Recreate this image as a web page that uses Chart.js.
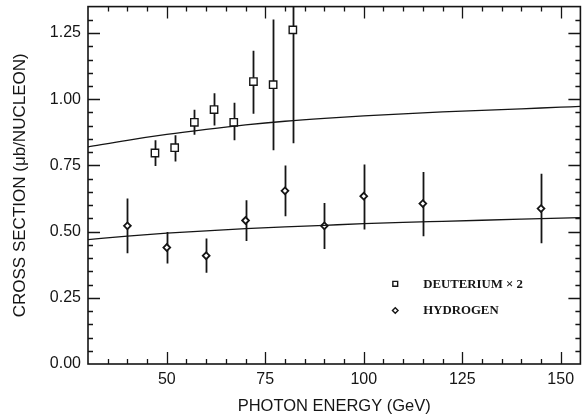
<!DOCTYPE html>
<html>
<head>
<meta charset="utf-8">
<script src="https://cdn.jsdelivr.net/npm/chart.js@4/dist/chart.umd.min.js"></script>
<style>
  html, body { margin: 0; padding: 0; background: #fff; }
  #wrap { width: 587px; height: 416px; }
</style>
</head>
<body>
<div id="wrap"><canvas id="chart" width="587" height="416"></canvas></div>
<script>
// Deuterium (x 2) measurements
const deutEnergy = [47, 52, 57, 62, 67, 72, 77, 82];
const deutValue  = [0.797, 0.817, 0.913, 0.961, 0.913, 1.067, 1.055, 1.262];
const deutLow    = [0.748, 0.765, 0.866, 0.901, 0.845, 0.945, 0.807, 0.834];
const deutHigh   = [0.845, 0.864, 0.960, 1.023, 0.987, 1.183, 1.301, 1.69];

// Hydrogen measurements
const hydEnergy = [40, 50, 60, 70, 80, 90, 100, 115, 145];
const hydValue  = [0.522, 0.440, 0.409, 0.542, 0.654, 0.522, 0.634, 0.606, 0.587];
const hydLow    = [0.418, 0.380, 0.345, 0.465, 0.558, 0.434, 0.508, 0.483, 0.456];
const hydHigh   = [0.625, 0.499, 0.474, 0.619, 0.750, 0.608, 0.754, 0.725, 0.719];

// Fitted curves
const curveEnergy = [30, 40, 50, 60, 70, 80, 90, 100, 110, 120, 130, 140, 150, 155];
const deutCurve   = [0.820, 0.845, 0.867, 0.886, 0.903, 0.917, 0.928, 0.937, 0.945, 0.952, 0.958, 0.964, 0.970, 0.973];
const hydCurve    = [0.470, 0.483, 0.494, 0.503, 0.511, 0.518, 0.524, 0.530, 0.535, 0.539, 0.543, 0.547, 0.551, 0.553];

// Axis ticks
const xTicks = [50, 75, 100, 125, 150];
const yTicks = [0, 0.25, 0.5, 0.75, 1.0, 1.25];
const legendLabels = ['DEUTERIUM \u00d7 2', 'HYDROGEN'];

const INK = '#151515';
const SANS = '"Liberation Sans", Arial, sans-serif';

const toXY = (xs, ys) => xs.map((x, i) => ({ x, y: ys[i] }));

/** Frame, inward ticks on all four sides, error bars and the inset legend. */
const framePlugin = {
  id: 'frame',
  beforeDatasetsDraw(chart) {
    const { ctx, chartArea: a, scales: { x, y } } = chart;
    ctx.save();
    ctx.beginPath();
    ctx.rect(a.left, a.top, a.right - a.left, a.bottom - a.top);
    ctx.clip();
    ctx.strokeStyle = INK;
    ctx.lineWidth = 1.8;
    const bars = [[deutEnergy, deutLow, deutHigh], [hydEnergy, hydLow, hydHigh]];
    bars.forEach(([xs, lo, hi]) => {
      xs.forEach((e, i) => {
        const px = Math.round(x.getPixelForValue(e)) + 0.5;
        ctx.beginPath();
        ctx.moveTo(px, y.getPixelForValue(lo[i]));
        ctx.lineTo(px, y.getPixelForValue(hi[i]));
        ctx.stroke();
      });
    });
    ctx.restore();
  },
  afterDraw(chart) {
    const { ctx, chartArea: a, scales: { x, y } } = chart;
    ctx.save();
    ctx.strokeStyle = INK;
    ctx.lineWidth = 1.6;
    ctx.strokeRect(a.left, a.top, a.right - a.left, a.bottom - a.top);

    ctx.lineWidth = 1.3;
    const major = 12, minor = 5;
    for (let v = x.min; v <= x.max + 1e-6; v += 5) {
      if (v <= x.min || v >= x.max) continue;
      const len = xTicks.includes(v) ? major : minor;
      const px = Math.round(x.getPixelForValue(v)) + 0.5;
      ctx.beginPath();
      ctx.moveTo(px, a.bottom); ctx.lineTo(px, a.bottom - len);
      ctx.moveTo(px, a.top); ctx.lineTo(px, a.top + len);
      ctx.stroke();
    }
    for (let k = 1; k * 0.05 < y.max; k++) {
      const v = +(k * 0.05).toFixed(2);
      const len = yTicks.some(t => Math.abs(t - v) < 1e-6) ? major : minor;
      const py = Math.round(y.getPixelForValue(v)) + 0.5;
      ctx.beginPath();
      ctx.moveTo(a.left, py); ctx.lineTo(a.left + len, py);
      ctx.moveTo(a.right, py); ctx.lineTo(a.right - len, py);
      ctx.stroke();
    }

    // inset legend
    const lx = x.getPixelForValue(108);
    const ly = [y.getPixelForValue(0.303), y.getPixelForValue(0.202)];
    const styles = [
      { pointStyle: 'rect', radius: 3.4 },
      { pointStyle: 'rectRot', radius: 2.8 },
    ];
    ctx.fillStyle = '#fff';
    ctx.strokeStyle = INK;
    ctx.lineWidth = 1.4;
    styles.forEach((s, i) => {
      Chart.helpers.drawPoint(ctx, { pointStyle: s.pointStyle, radius: s.radius, borderWidth: 1.4 }, lx, ly[i]);
    });
    ctx.fillStyle = INK;
    ctx.font = 'bold 12.8px "Liberation Serif", "Times New Roman", serif';
    ctx.textBaseline = 'middle';
    ctx.textAlign = 'left';
    legendLabels.forEach((t, i) => ctx.fillText(t, lx + 28, ly[i] + 0.5));
    ctx.restore();
  },
};

new Chart(document.getElementById('chart'), {
  type: 'scatter',
  data: {
    datasets: [
      {
        label: 'Deuterium fit',
        data: toXY(curveEnergy, deutCurve),
        showLine: true,
        pointRadius: 0,
        borderColor: INK,
        borderWidth: 1.3,
        cubicInterpolationMode: 'monotone',
      },
      {
        label: 'Hydrogen fit',
        data: toXY(curveEnergy, hydCurve),
        showLine: true,
        pointRadius: 0,
        borderColor: INK,
        borderWidth: 1.3,
        cubicInterpolationMode: 'monotone',
      },
      {
        label: legendLabels[0],
        data: toXY(deutEnergy, deutValue),
        pointStyle: 'rect',
        pointRadius: 5.2,
        pointBorderWidth: 1.4,
        pointBackgroundColor: '#fff',
        pointBorderColor: INK,
      },
      {
        label: legendLabels[1],
        data: toXY(hydEnergy, hydValue),
        pointStyle: 'rectRot',
        pointRadius: 3.4,
        pointBorderWidth: 1.8,
        pointBackgroundColor: '#fff',
        pointBorderColor: INK,
      },
    ],
  },
  options: {
    responsive: false,
    animation: false,
    layout: { padding: { top: 6, right: 2, left: 0, bottom: 0 } },
    plugins: { legend: { display: false }, tooltip: { enabled: false } },
    scales: {
      x: {
        type: 'linear',
        min: 30,
        max: 155,
        afterBuildTicks: (s) => { s.ticks = xTicks.map(v => ({ value: v })); },
        afterFit: (s) => {
          s.height = 52;
          s.paddingLeft = 0;
          s.paddingRight = 0;
        },
        grid: { display: false, drawTicks: false },
        border: { display: false },
        ticks: { color: INK, padding: 6, font: { family: SANS, size: 16 } },
        title: {
          display: true,
          text: 'PHOTON ENERGY (GeV)',
          color: INK,
          font: { family: SANS, size: 16.5 },
          padding: { top: 0, bottom: 0 },
        },
      },
      y: {
        min: 0,
        max: 1.35,
        afterBuildTicks: (s) => { s.ticks = yTicks.map(v => ({ value: v })); },
        afterFit: (s) => {
          s.width = 88;
          s.paddingTop = 0;
          s.paddingBottom = 0;
        },
        grid: { display: false, drawTicks: false },
        border: { display: false },
        ticks: {
          color: INK,
          padding: 7,
          font: { family: SANS, size: 16 },
          callback: (v) => Number(v).toFixed(2),
        },
        title: {
          display: true,
          text: 'CROSS SECTION (\u03bcb/NUCLEON)',
          color: INK,
          font: { family: SANS, size: 17 },
          padding: { top: 10, bottom: 0 },
        },
      },
    },
  },
  plugins: [framePlugin],
});
</script>
</body>
</html>
